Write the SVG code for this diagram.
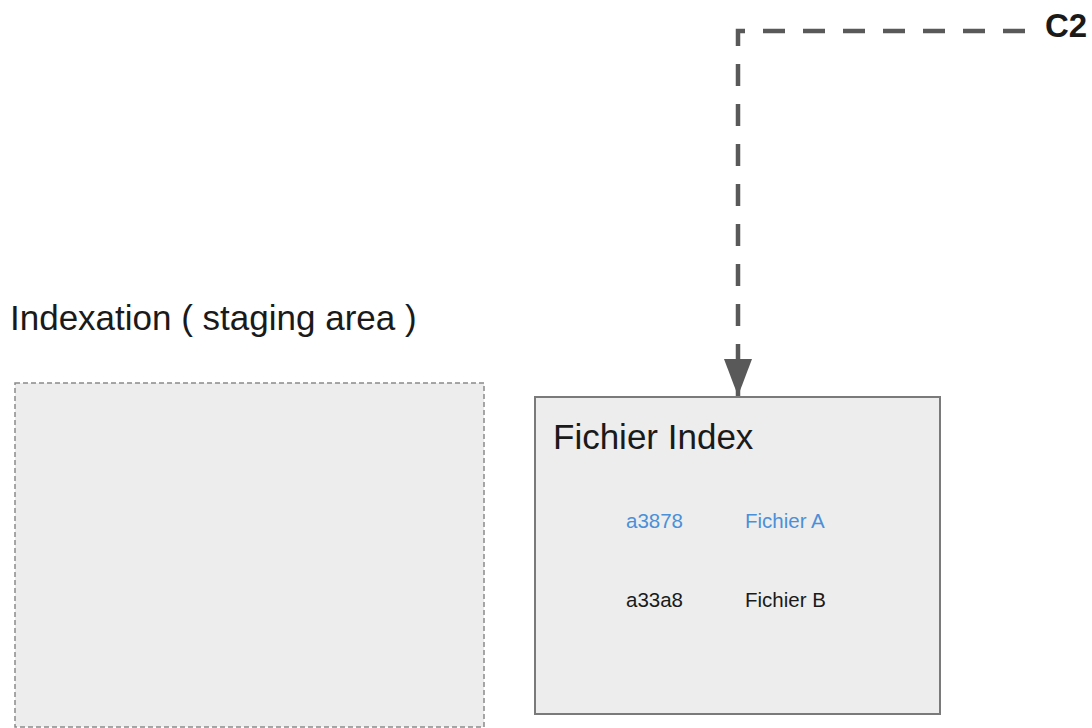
<svg xmlns="http://www.w3.org/2000/svg" width="1092" height="728" viewBox="0 0 1092 728">
<style>
  text { font-family: "Liberation Sans", Arial, sans-serif; }
  .title { font-size: 35px; fill: #1a1a1a; }
  .small { font-size: 20.5px; }
  .blue { fill: #4a90d9; }
  .dark { fill: #1a1a1a; }
</style>
<defs>
  <marker id="arrow" markerWidth="38" markerHeight="28" refX="37" refY="14" orient="auto" markerUnits="userSpaceOnUse" viewBox="0 0 38 28">
    <path d="M0,0 L37,14 L0,28 Z" fill="#595959"/>
  </marker>
</defs>
<rect width="1092" height="728" fill="#ffffff"/>
<g id="staging">
  <text class="title" x="10" y="330">Indexation ( staging area )</text>
  <rect x="15" y="383" width="469" height="344" fill="#ededed" stroke="#8a8a8a" stroke-width="1.5" stroke-dasharray="5,3"/>
</g>
<g id="index">
  <rect x="535" y="397" width="405" height="317" fill="#ededed" stroke="#7a7a7a" stroke-width="2"/>
  <text class="title" x="553" y="449">Fichier Index</text>
  <text class="small blue" x="626" y="528">a3878</text>
  <text class="small blue" x="745" y="528">Fichier A</text>
  <text class="small dark" x="626" y="607">a33a8</text>
  <text class="small dark" x="745" y="607">Fichier B</text>
</g>
<g id="c2">
  <text x="1045" y="37" style="font-size:33px;font-weight:bold" fill="#1a1a1a">C2</text>
</g>
<g id="connectors">
  <path d="M1025,31 L738,31 L738,396" fill="none" stroke="#595959" stroke-width="4.5" stroke-dasharray="22,18" marker-end="url(#arrow)"/>
</g>
</svg>
